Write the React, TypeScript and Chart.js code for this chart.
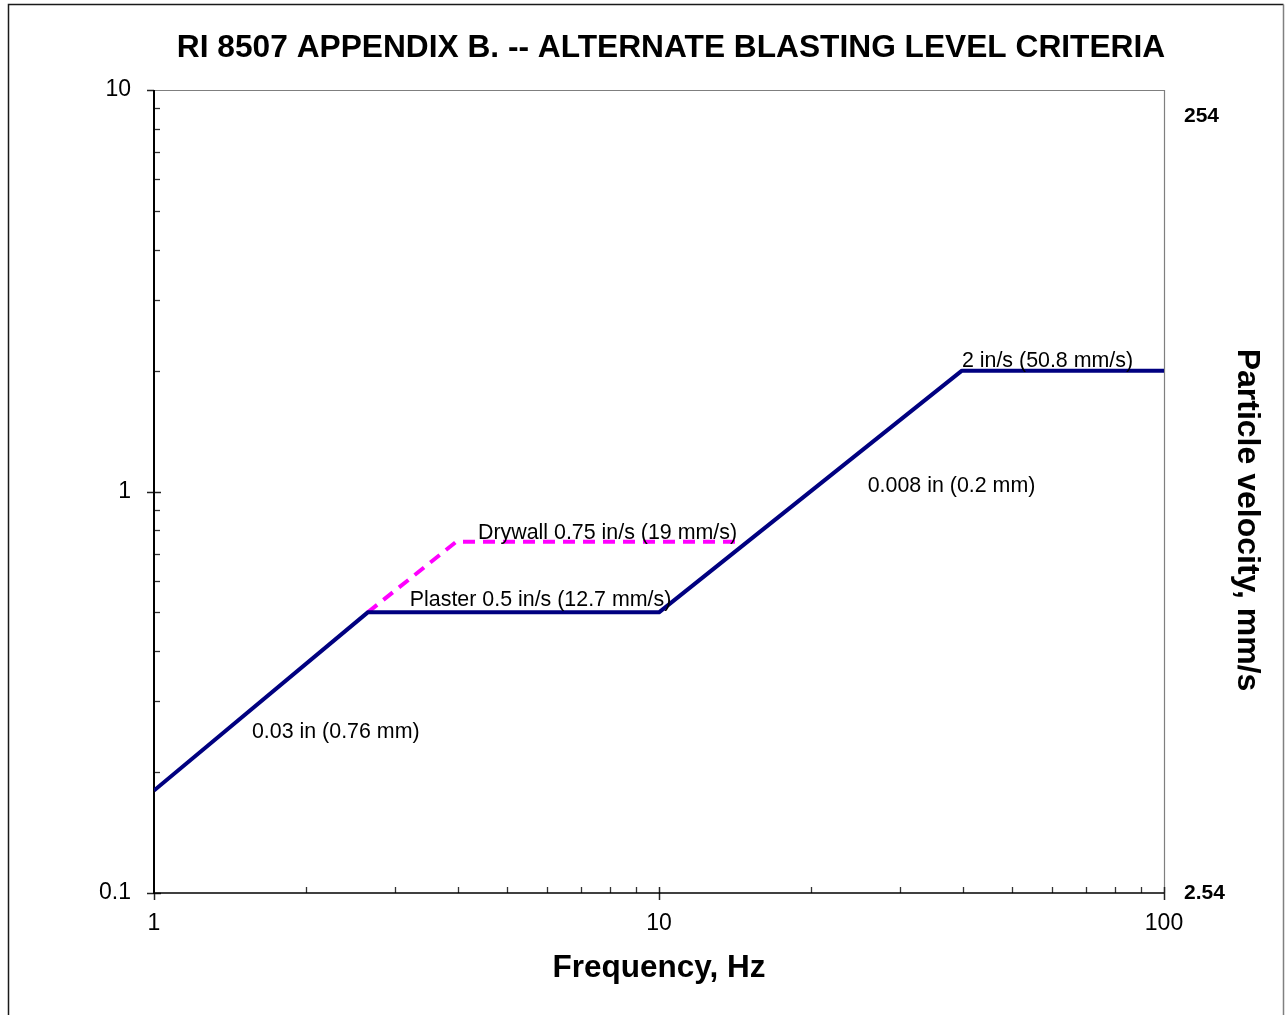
import React, { useEffect, useRef } from "react";
import { Chart, registerables } from "chart.js";

Chart.register(...registerables);

const FONT = "'Liberation Sans', Arial, Helvetica, sans-serif";

const chartTitle = "RI 8507 APPENDIX B. -- ALTERNATE BLASTING LEVEL CRITERIA";
const xTitle = "Frequency, Hz";
const rightTitle = "Particle velocity, mm/s";

const xTickValues = [1, 10, 100];
const yTickValues = [0.1, 1, 10];
const y2TickValues = [2.54, 254];
const minorMultipliers = [2, 3, 4, 5, 6, 7, 8, 9];

// Plaster criterion (solid navy)
const plasterFreq = [1, 2.65, 10, 39.8, 100];
const plasterVel = [0.18, 0.5, 0.5, 2.0, 2.0];

// Drywall criterion (dashed magenta)
const drywallFreq = [2.65, 3.97, 14.5];
const drywallVel = [0.5, 0.75, 0.75];

// Annotation labels anchored in data coordinates (left edge, vertical middle)
const noteTexts = [
  "0.03 in (0.76 mm)",
  "Plaster 0.5 in/s (12.7 mm/s)",
  "Drywall 0.75 in/s (19 mm/s)",
  "0.008 in (0.2 mm)",
  "2 in/s (50.8 mm/s)",
];
const noteFreq = [1.563, 3.21, 4.38, 25.9, 39.8];
const noteVel = [0.2533, 0.54, 0.793, 1.038, 2.126];

export default function App() {
  const ref = useRef<HTMLCanvasElement>(null);

  useEffect(() => {
    const canvas = ref.current!;
    Chart.defaults.font.family = FONT;

    const decor = {
      id: "decor",
      beforeDraw(chart: any) {
        const ctx = chart.ctx;
        ctx.save();
        ctx.fillStyle = "#ffffff";
        ctx.fillRect(0, 0, chart.width, chart.height);
        // outer chart frame
        ctx.strokeStyle = "#1a1a1a";
        ctx.lineWidth = 1.5;
        ctx.beginPath();
        ctx.moveTo(8.5, 1200);
        ctx.lineTo(8.5, 4.5);
        ctx.lineTo(1283.5, 4.5);
        ctx.stroke();
        ctx.strokeStyle = "#808080";
        ctx.lineWidth = 1.5;
        ctx.beginPath();
        ctx.moveTo(1283.5, 4.5);
        ctx.lineTo(1283.5, 1200);
        ctx.stroke();
        // main title
        ctx.fillStyle = "#000";
        ctx.font = `bold 31.7px ${FONT}`;
        ctx.textAlign = "center";
        ctx.textBaseline = "middle";
        ctx.fillText(chartTitle, 671, 48);
        // right axis title (reads top to bottom)
        ctx.font = `bold 32px ${FONT}`;
        ctx.translate(1247, 520);
        ctx.rotate(Math.PI / 2);
        ctx.fillText(rightTitle, 0, 0);
        ctx.restore();
      },
      beforeDatasetsDraw(chart: any) {
        const ctx = chart.ctx;
        const { left, right, top, bottom } = chart.chartArea;
        const xs = chart.scales.x;
        const ys = chart.scales.y;
        const line = (x1: number, y1: number, x2: number, y2: number) => {
          ctx.beginPath();
          ctx.moveTo(x1, y1);
          ctx.lineTo(x2, y2);
          ctx.stroke();
        };
        ctx.save();
        ctx.strokeStyle = "#7f7f7f";
        ctx.lineWidth = 1.2;
        line(left, top + 0.5, right, top + 0.5);
        line(right + 0.5, top, right + 0.5, bottom);

        ctx.strokeStyle = "#333";
        ctx.lineWidth = 1.3;
        for (let i = 0; i < yTickValues.length - 1; i++) {
          for (const m of minorMultipliers) {
            const py = Math.round(ys.getPixelForValue(yTickValues[i] * m)) + 0.5;
            line(left, py, left + 6, py);
          }
        }
        for (let i = 0; i < xTickValues.length - 1; i++) {
          for (const m of minorMultipliers) {
            const px = Math.round(xs.getPixelForValue(xTickValues[i] * m)) + 0.5;
            line(px, bottom, px, bottom - 6);
          }
        }
        ctx.strokeStyle = "#222";
        ctx.lineWidth = 1.5;
        for (const v of yTickValues) {
          const py = Math.round(ys.getPixelForValue(v)) + 0.5;
          line(left - 7, py, v === yTickValues[yTickValues.length - 1] ? left : left + 7, py);
        }
        for (const v of xTickValues) {
          const px = Math.round(xs.getPixelForValue(v)) + 0.5;
          line(px, v === xTickValues[0] ? bottom : bottom - 6, px, bottom + 7);
        }
        ctx.strokeStyle = "#000";
        ctx.lineWidth = 2;
        line(left, top, left, bottom + 1);
        ctx.lineWidth = 1.6;
        line(left, bottom, right, bottom);
        ctx.restore();
      },
      afterDatasetsDraw(chart: any) {
        const ctx = chart.ctx;
        const xs = chart.scales.x;
        const ys = chart.scales.y;
        ctx.save();
        ctx.fillStyle = "#000";
        ctx.font = `21.4px ${FONT}`;
        ctx.textAlign = "left";
        ctx.textBaseline = "middle";
        noteTexts.forEach((t, i) => {
          ctx.fillText(t, xs.getPixelForValue(noteFreq[i]), ys.getPixelForValue(noteVel[i]) + 1);
        });
        ctx.restore();
      },
    };

    const chart = new Chart(canvas, {
      type: "scatter",
      data: {
        datasets: [
          {
            label: "Plaster",
            data: plasterFreq.map((f, i) => ({ x: f, y: plasterVel[i] })),
            showLine: true,
            borderColor: "#000080",
            backgroundColor: "#000080",
            borderWidth: 4,
            pointRadius: 0,
            tension: 0,
            borderJoinStyle: "round",
          },
          {
            label: "Drywall",
            data: drywallFreq.map((f, i) => ({ x: f, y: drywallVel[i] })),
            showLine: true,
            borderColor: "#ff00ff",
            backgroundColor: "#ff00ff",
            borderWidth: 4,
            borderDash: [12, 8],
            pointRadius: 0,
            tension: 0,
            borderJoinStyle: "round",
          },
        ],
      },
      options: {
        responsive: false,
        animation: false,
        devicePixelRatio: 1,
        layout: { padding: { left: 0, right: 0, top: 90, bottom: 0 } },
        plugins: {
          legend: { display: false },
          title: { display: false },
          tooltip: { enabled: false },
        },
        scales: {
          x: {
            type: "logarithmic",
            position: "bottom",
            min: 1,
            max: 100,
            afterBuildTicks: (s: any) => {
              s.ticks = xTickValues.map((v) => ({ value: v }));
            },
            afterFit: (s: any) => {
              s.height = 122;
            },
            grid: { display: false, drawTicks: false },
            border: { display: false },
            ticks: {
              color: "#000",
              font: { size: 23, family: FONT },
              padding: 17,
              maxRotation: 0,
              autoSkip: false,
              callback: (v: any) => String(v),
            },
            title: {
              display: true,
              text: xTitle,
              color: "#000",
              font: { size: 31.5, weight: "bold", family: FONT },
              padding: { top: 0, bottom: 28 },
            },
          },
          y: {
            type: "logarithmic",
            position: "left",
            min: 0.1,
            max: 10,
            afterBuildTicks: (s: any) => {
              s.ticks = yTickValues.map((v) => ({ value: v }));
            },
            afterFit: (s: any) => {
              s.width = 154;
            },
            grid: { display: false, drawTicks: false },
            border: { display: false },
            ticks: {
              color: "#000",
              font: { size: 23, family: FONT },
              padding: 23,
              autoSkip: false,
              callback: (v: any) => String(v),
            },
          },
          y2: {
            type: "logarithmic",
            position: "right",
            min: 2.54,
            max: 296.5,
            afterBuildTicks: (s: any) => {
              s.ticks = y2TickValues.map((v) => ({ value: v }));
            },
            afterFit: (s: any) => {
              s.width = 122;
            },
            grid: { display: false, drawTicks: false },
            border: { display: false },
            ticks: {
              color: "#000",
              font: { size: 21, weight: "bold", family: FONT },
              padding: 20,
              autoSkip: false,
              callback: (v: any) => String(v),
            },
          },
        },
      },
      plugins: [decor],
    } as any);

    return () => chart.destroy();
  }, []);

  return (
    <canvas
      ref={ref}
      width={1286}
      height={1015}
      style={{ position: "fixed", left: 0, top: 0, width: 1286, height: 1015 }}
    />
  );
}
